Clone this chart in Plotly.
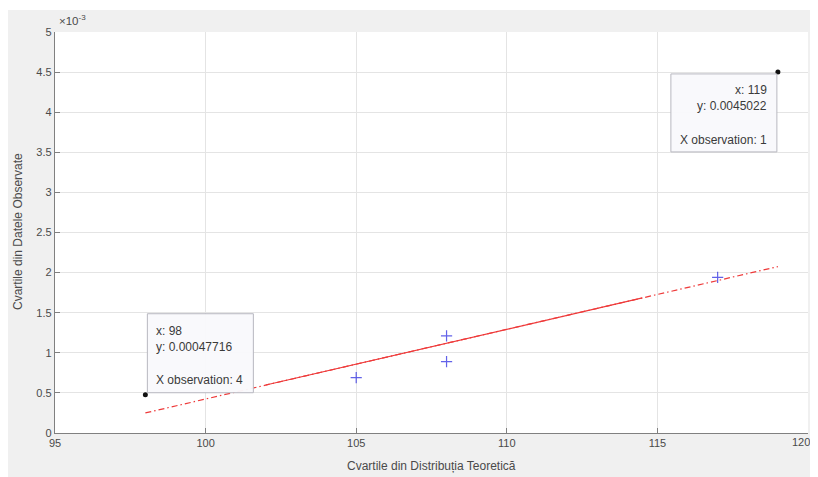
import plotly.graph_objects as go

# ---- data ----
obs_x = [98, 105, 108, 108, 117, 119]
obs_y = [0.00047716, 0.00069, 0.00089, 0.00121, 0.00194, 0.0045022]

ref_line_x = [98, 119]
ref_line_y = [0.00025, 0.002075]
fit_seg_x = [102, 114.5]
fit_seg_y = [0.000598, 0.001684]

tip_x = [98, 119]
tip_y = [0.00047716, 0.0045022]
tip_ytext = ["0.00047716", "0.0045022"]
tip_obs = [4, 1]

x_ticks = [95, 100, 105, 110, 115, 120]
x_tick_text = ["95", "100", "105", "110", "115", "120"]
y_ticks = [0, 0.0005, 0.001, 0.0015, 0.002, 0.0025, 0.003, 0.0035, 0.004, 0.0045, 0.005]
y_tick_text = ["0", "0.5", "1", "1.5", "2", "2.5", "3", "3.5", "4", "4.5", "5"]

# page body has an 8px margin: figure sits at (8, 8) in the window
OFF = 8
W, H = 802, 469
L, R, T, B = 55 - OFF, 808 - OFF, 32 - OFF, 433 - OFF
pw, ph = R - L, B - T


def px(x):
    return (x - OFF - L) / pw


def py(y):
    return (B - (y - OFF)) / ph


FONT = "Liberation Sans, Arial, Helvetica, sans-serif"
AX_COL = "#808080"
TXT_COL = "#4a4a4a"
TIP_COL = "#3a3a3a"
GRID = "#e4e4e4"

is_tip = [any(x == tx and y == ty for tx, ty in zip(tip_x, tip_y)) for x, y in zip(obs_x, obs_y)]
cross_sizes = [0 if t else 8 for t in is_tip]

fig = go.Figure()

fig.add_trace(go.Scatter(x=ref_line_x, y=ref_line_y, mode="lines",
                         line=dict(color="#ee3a3a", width=1.2, dash="6px,3px,1.5px,3px"),
                         hoverinfo="skip", showlegend=False))
fig.add_trace(go.Scatter(x=fit_seg_x, y=fit_seg_y, mode="lines",
                         line=dict(color="#ee3a3a", width=1.2),
                         hoverinfo="skip", showlegend=False))
fig.add_trace(go.Scatter(x=obs_x, y=obs_y, mode="markers",
                         marker=dict(symbol="cross-thin", size=cross_sizes,
                                     line=dict(color="#2020e0", width=1.2)),
                         showlegend=False))

box_specs = [
    dict(x0=2, x1=108, y0=2, y1=81, side="left", xs=9, lines_dy=[64, 48, 15]),
    dict(x0=-107, x1=-1, y0=-2, y1=-80, side="right", xs=-9, lines_dy=[-18, -34, -68]),
]
for i, spec in enumerate(box_specs):
    fig.add_shape(type="rect", xref="x", yref="y", xsizemode="pixel", ysizemode="pixel",
                  xanchor=tip_x[i], yanchor=tip_y[i],
                  x0=spec["x0"], x1=spec["x1"], y0=spec["y0"], y1=spec["y1"],
                  fillcolor="rgba(249,249,252,0.96)", line=dict(color="#b8b8c0", width=1),
                  layer="above")
    texts = [f"x: {tip_x[i]}", f"y: {tip_ytext[i]}", f"X observation: {tip_obs[i]}"]
    for t, dy in zip(texts, spec["lines_dy"]):
        fig.add_annotation(x=tip_x[i], y=tip_y[i], xref="x", yref="y", text=t,
                           showarrow=False, xanchor=spec["side"], yanchor="middle",
                           xshift=spec["xs"], yshift=dy,
                           font=dict(family=FONT, size=12, color=TIP_COL))

fig.add_trace(go.Scatter(x=tip_x, y=tip_y, mode="markers",
                         marker=dict(symbol="circle", size=5, color="#111111"),
                         showlegend=False))

fig.add_annotation(x=px(57), y=py(29), xref="paper", yref="paper",
                   text="×10<sup>-3</sup>", showarrow=False, xanchor="left", yanchor="bottom",
                   font=dict(family=FONT, size=11.5, color=TXT_COL))

fig.add_annotation(x=px(431), y=py(466), xref="paper", yref="paper",
                   text="Cvartile din Distribuția Teoretică", showarrow=False,
                   xanchor="center", yanchor="middle",
                   font=dict(family=FONT, size=12, color=TXT_COL))
fig.add_annotation(x=px(18), y=py(232), xref="paper", yref="paper",
                   text="Cvartile din Datele Observate", showarrow=False, textangle=-90,
                   xanchor="center", yanchor="middle",
                   font=dict(family=FONT, size=12, color=TXT_COL))

# last x tick label: right-aligned so it is not cut by the figure edge
fig.add_annotation(x=x_ticks[-1], y=0, xref="x", yref="y", text=x_tick_text[-1],
                   showarrow=False, xanchor="right", yanchor="top", xshift=4, yshift=-1,
                   font=dict(family=FONT, size=11, color=TXT_COL))

# thin white strip at the very top (screenshot border)
fig.add_shape(type="rect", xref="paper", yref="paper",
              x0=px(0), x1=px(818), y0=py(10), y1=py(OFF),
              fillcolor="white", line=dict(width=0), layer="below")

fig.update_xaxes(range=[95, 120], tickvals=x_ticks,
                 ticktext=x_tick_text[:-1] + [""],
                 showgrid=True, gridcolor=GRID, gridwidth=1, zeroline=False,
                 showline=True, linecolor=AX_COL, linewidth=1.3,
                 ticks="inside", ticklen=5, tickcolor=AX_COL,
                 tickfont=dict(family=FONT, size=11, color=TXT_COL))
fig.update_yaxes(range=[0, 0.005], tickvals=y_ticks, ticktext=y_tick_text,
                 showgrid=True, gridcolor=GRID, gridwidth=1, zeroline=False,
                 showline=True, linecolor=AX_COL, linewidth=1.3,
                 ticks="inside", ticklen=5, tickcolor=AX_COL,
                 tickfont=dict(family=FONT, size=11, color=TXT_COL))

fig.update_layout(width=W, height=H, autosize=False,
                  margin=dict(l=L, r=W - R, t=T, b=H - B, pad=0),
                  paper_bgcolor="#f0f0f0", plot_bgcolor="white",
                  showlegend=False, hovermode=False)

fig.write_html("out.html")
